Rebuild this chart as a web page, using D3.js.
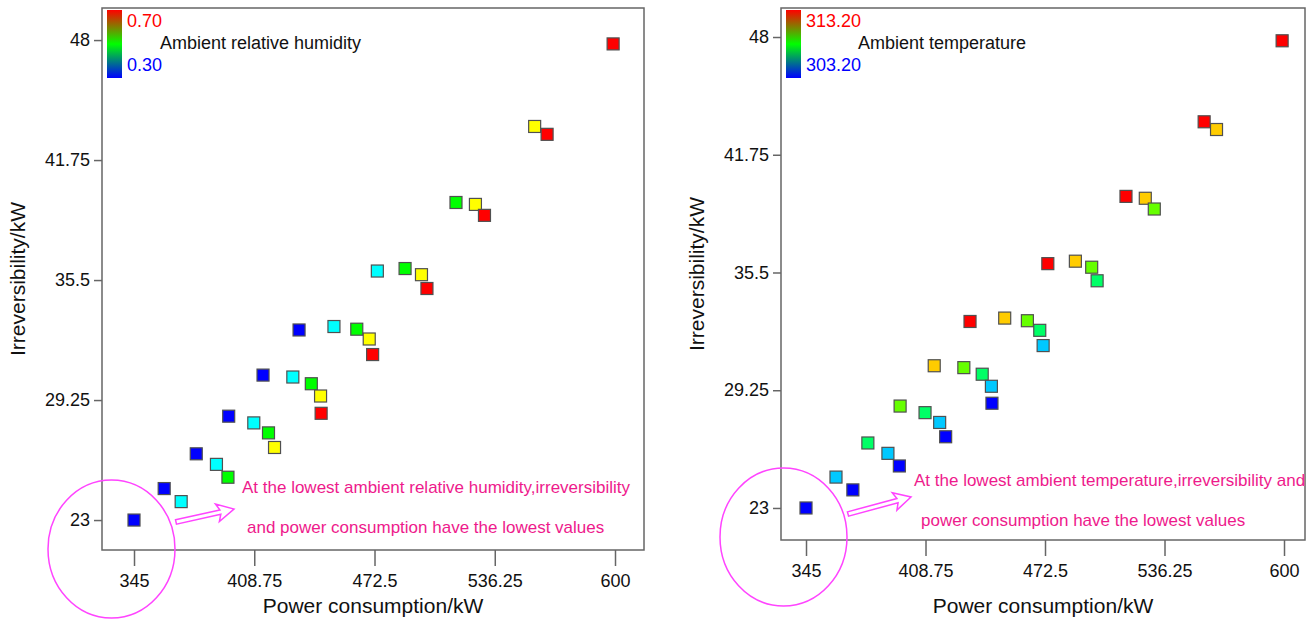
<!DOCTYPE html>
<html lang="en">
<head>
<meta charset="utf-8">
<title>Irreversibility vs power consumption</title>
<script src="https://cdn.jsdelivr.net/npm/d3@7"></script>
<style>
  body { margin: 0; background: #fff; }
  svg text { font-family: "Liberation Sans", Arial, Helvetica, sans-serif; }
</style>
</head>
<body>
<script>

// same 30 operating points, coloured by humidity (left) and by temperature (right)
var power = [345, 361, 370, 378, 388.7, 394.8, 395.2, 408.5, 416.3, 419.5,
             413.4, 429.2, 439, 443.9, 444.2, 432.5, 451, 463.1, 469.7, 471.5,
             474, 488.7, 497.4, 500.3, 515.7, 526, 530.8, 557.4, 564, 599];
var irrev = [23.0, 24.64, 23.96, 26.45, 25.9, 25.23, 28.41, 28.06, 27.54, 26.78,
             30.55, 30.45, 30.1, 29.46, 28.56, 32.9, 33.08, 32.94, 32.43, 31.62,
             35.97, 36.1, 35.78, 35.06, 39.54, 39.44, 38.87, 43.5, 43.09, 47.8];
var humidity = [0.3, 0.3, 0.4, 0.3, 0.4, 0.5, 0.3, 0.4, 0.5, 0.6,
                0.3, 0.4, 0.5, 0.6, 0.7, 0.3, 0.4, 0.5, 0.6, 0.7,
                0.4, 0.5, 0.6, 0.7, 0.5, 0.6, 0.7, 0.6, 0.7, 0.7];
var temperature = [303.2, 305.2, 303.2, 307.2, 305.2, 303.2, 309.2, 307.2, 305.2, 303.2,
                   311.2, 309.2, 307.2, 305.2, 303.2, 313.2, 311.2, 309.2, 307.2, 305.2,
                   313.2, 311.2, 309.2, 307.2, 313.2, 311.2, 309.2, 313.2, 311.2, 313.2];

var xTicks = [345, 408.75, 472.5, 536.25, 600];
var yTicks = [23, 29.25, 35.5, 41.75, 48];

var humLevels = [0.3, 0.4, 0.5, 0.6, 0.7];
var humColors = ["#0000ff", "#00ffff", "#00ff00", "#ffff00", "#ff0000"];
var tempLevels = [303.2, 305.2, 307.2, 309.2, 311.2, 313.2];
var tempColors = ["#0000ff", "#00c8ff", "#00ff66", "#66ff00", "#ffcc00", "#ff0000"];

var points = power.map(function(p, i) {
  return {p: p, ir: irrev[i], h: humidity[i], t: temperature[i]};
});

var svg = d3.select("body").append("svg")
    .attr("width", 1315)
    .attr("height", 620);

var pink = "#ee1a8c", magenta = "#ff44ff";

var panels = [
  { key: "h", levels: humLevels, colors: humColors,
    left: 102, right: 644, top: 8, bottom: 550,
    xdom: [328.03, 615.37], ydom: [21.44, 49.67],
    legend: ["0.70", "0.30", "Ambient relative humidity"], legTx: 160,
    yTitleX: 25, xTitleY: 613,
    note: ["At the lowest ambient relative humidity,irreversibility", "and power consumption have the lowest values"],
    noteX: [242, 247], noteY: [493, 533],
    ell: [111.5, 549], arrow: [176, 522, 234, 509] },
  { key: "t", levels: tempLevels, colors: tempColors,
    left: 781, right: 1305, top: 8, bottom: 540,
    xdom: [331.66, 611.2], ydom: [21.3, 49.54],
    legend: ["313.20", "303.20", "Ambient temperature"], legTx: 858,
    yTitleX: 704, xTitleY: 613,
    note: ["At the lowest ambient temperature,irreversibility and", "power consumption have the lowest values"],
    noteX: [914, 921], noteY: [486, 526],
    ell: [783.5, 537], arrow: [848, 514, 911, 497] }
];

var defs = svg.append("defs");

panels.forEach(function(cfg, k) {
  var x = d3.scaleLinear().domain(cfg.xdom).range([cfg.left, cfg.right]);
  var y = d3.scaleLinear().domain(cfg.ydom).range([cfg.bottom, cfg.top]);
  var color = d3.scaleOrdinal().domain(cfg.levels).range(cfg.colors);

  var g = svg.append("g");

  // frame
  g.append("rect")
      .attr("x", cfg.left).attr("y", cfg.top)
      .attr("width", cfg.right - cfg.left).attr("height", cfg.bottom - cfg.top)
      .attr("fill", "none").attr("stroke", "#666").attr("stroke-width", 1.5);

  var xAxis = g.append("g")
      .attr("transform", "translate(0," + cfg.bottom + ")")
      .call(d3.axisBottom(x).tickValues(xTicks).tickSize(16).tickPadding(8)
            .tickFormat(function(d) { return String(d); }));
  var yAxis = g.append("g")
      .attr("transform", "translate(" + cfg.left + ",0)")
      .call(d3.axisLeft(y).tickValues(yTicks).tickSize(8).tickPadding(4)
            .tickFormat(function(d) { return String(d); }));
  [xAxis, yAxis].forEach(function(a) {
    a.select(".domain").remove();
    a.selectAll("line").attr("stroke", "#666").attr("stroke-width", 1.5);
    a.selectAll("text").attr("fill", "#111").style("font-size", "18px")
        .style("font-family", "'Liberation Sans', Arial, sans-serif");
  });

  // points
  var s = 12;
  g.selectAll("rect.pt")
      .data(points)
      .enter().append("rect")
      .attr("class", "pt")
      .attr("x", function(d) { return x(d.p) - s / 2; })
      .attr("y", function(d) { return y(d.ir) - s / 2; })
      .attr("width", s).attr("height", s)
      .attr("fill", function(d) { return color(d[cfg.key]); })
      .attr("stroke", "#505050").attr("stroke-width", 1.2);

  // legend
  var gid = "grad" + k;
  var grad = defs.append("linearGradient").attr("id", gid)
      .attr("x1", 0).attr("y1", 0).attr("x2", 0).attr("y2", 1);
  grad.append("stop").attr("offset", "0%").attr("stop-color", "#ff0000");
  grad.append("stop").attr("offset", "50%").attr("stop-color", "#00ff00");
  grad.append("stop").attr("offset", "100%").attr("stop-color", "#0000ff");
  g.append("rect")
      .attr("x", cfg.left + 5).attr("y", cfg.top + 2)
      .attr("width", 15).attr("height", 68)
      .attr("fill", "url(#" + gid + ")");
  g.append("text").attr("x", cfg.left + 25).attr("y", cfg.top + 19)
      .attr("fill", "#ff0000").style("font-size", "18px").text(cfg.legend[0]);
  g.append("text").attr("x", cfg.left + 25).attr("y", cfg.top + 63)
      .attr("fill", "#0000ff").style("font-size", "18px").text(cfg.legend[1]);
  g.append("text").attr("x", cfg.legTx).attr("y", cfg.top + 41)
      .attr("fill", "#111").style("font-size", "18px").text(cfg.legend[2]);

  // axis titles
  g.append("text")
      .attr("transform", "translate(" + cfg.yTitleX + "," + ((cfg.top + cfg.bottom) / 2) + ") rotate(-90)")
      .attr("text-anchor", "middle").attr("fill", "#111")
      .style("font-size", "21px").text("Irreversibility/kW");
  g.append("text")
      .attr("x", (cfg.left + cfg.right) / 2).attr("y", cfg.xTitleY)
      .attr("text-anchor", "middle").attr("fill", "#111")
      .style("font-size", "21px").text("Power consumption/kW");

  // annotation
  g.append("ellipse")
      .attr("cx", cfg.ell[0]).attr("cy", cfg.ell[1])
      .attr("rx", 63.5).attr("ry", 69)
      .attr("fill", "none").attr("stroke", magenta).attr("stroke-width", 1.5);

  var a = cfg.arrow;
  var ang = Math.atan2(a[3] - a[1], a[2] - a[0]);
  var len = Math.hypot(a[2] - a[0], a[3] - a[1]);
  var shaft = [[0, -2.2], [len - 14, -2.2], [len - 17, -9], [len, 0], [len - 17, 9], [len - 14, 2.2], [0, 2.2]];
  g.append("polygon")
      .attr("points", shaft.map(function(q) { return q.join(","); }).join(" "))
      .attr("transform", "translate(" + a[0] + "," + a[1] + ") rotate(" + (ang * 180 / Math.PI) + ")")
      .attr("fill", "#fff").attr("stroke", magenta).attr("stroke-width", 1.5);

  cfg.note.forEach(function(line, i) {
    g.append("text")
        .attr("x", cfg.noteX[i]).attr("y", cfg.noteY[i])
        .attr("fill", pink).style("font-size", "17px").text(line);
  });
});

</script>
</body>
</html>
